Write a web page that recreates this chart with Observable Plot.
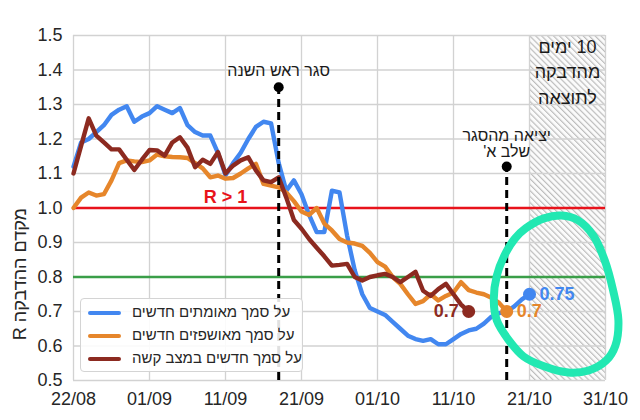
<!DOCTYPE html>
<html><head><meta charset="utf-8">
<script src="https://cdn.jsdelivr.net/npm/d3@7"></script>
<script src="https://cdn.jsdelivr.net/npm/@observablehq/plot@0.6"></script>
<style>
body{margin:0;background:#fff;font-family:"Liberation Sans",Arial,sans-serif;}
#wrap{position:relative;width:640px;height:420px;}
#legend{position:absolute;left:80px;top:298px;width:223px;height:74px;border:1px solid #d4d4d4;border-radius:4px;background:rgba(255,255,255,0.88);box-sizing:border-box;}
.sw{position:absolute;left:7px;width:33px;height:4px;border-radius:2px;}
.lab{position:absolute;left:51px;font-size:15px;line-height:18px;color:#262626;white-space:nowrap;direction:rtl;}
</style></head>
<body><div id="wrap"></div>
<script>
// ---- data ----
const startDate = "2020-08-22";
const blueR = [1.12,1.19,1.20,1.22,1.24,1.27,1.285,1.295,1.25,1.265,1.275,1.295,1.285,1.275,1.29,1.24,1.22,1.21,1.21,1.16,1.095,1.13,1.16,1.20,1.235,1.25,1.245,1.13,1.05,1.08,1.04,0.98,0.93,0.93,1.05,1.045,0.92,0.82,0.75,0.71,0.70,0.69,0.67,0.65,0.63,0.62,0.615,0.62,0.605,0.605,0.62,0.635,0.645,0.65,0.665,0.685,0.695,0.70,0.715,0.735,0.75];
const orangeR = [1.00,1.03,1.045,1.036,1.04,1.08,1.13,1.138,1.135,1.133,1.138,1.155,1.15,1.148,1.147,1.145,1.13,1.115,1.089,1.094,1.085,1.087,1.10,1.115,1.128,1.07,1.065,1.06,1.045,1.02,0.99,0.98,1.00,0.955,0.935,0.91,0.90,0.897,0.89,0.87,0.843,0.83,0.80,0.78,0.75,0.722,0.73,0.75,0.732,0.745,0.755,0.785,0.762,0.755,0.75,0.74,0.725,0.70];
const redR = [1.10,1.18,1.26,1.21,1.19,1.17,1.17,1.14,1.11,1.14,1.168,1.167,1.152,1.19,1.205,1.175,1.118,1.14,1.128,1.162,1.10,1.123,1.138,1.147,1.109,1.08,1.075,1.089,1.03,0.965,0.94,0.91,0.885,0.86,0.833,0.835,0.838,0.80,0.79,0.80,0.805,0.809,0.80,0.785,0.80,0.815,0.76,0.745,0.765,0.78,0.75,0.72,0.70];
const seriesNames = ["על סמך מאומתים חדשים","על סמך מאושפזים חדשים","על סמך חדשים במצב קשה"];
const seriesColors = ["#4287f0","#e6862b","#8c2a20"];
const endLabels = ["0.75","0.7","0.7"];
const xTickDates = ["2020-08-22","2020-09-01","2020-09-11","2020-09-21","2020-10-01","2020-10-11","2020-10-21","2020-10-31"];
const xTickLabels = ["22/08","01/09","11/09","21/09","01/10","11/10","21/10","31/10"];
const yTicks = [0.5,0.6,0.7,0.8,0.9,1.0,1.1,1.2,1.3,1.4,1.5];
const refLevels = [1.0,0.8];
const refColors = ["#e8131b","#3a9e48"];
const refText = "R > 1";
const refTextDate = "2020-09-11";
const refTextY = 1.032;
const eventDates = ["2020-09-18","2020-10-18"];
const eventTops = [1.35,1.12];
const eventLabels = ["סגר ראש השנה","יציאה מהסגר\nשלב א'"];
const eventLabelY = [1.398,1.186];
const forecastStart = "2020-10-21";
const forecastEnd = "2020-10-31";
const forecastLabel = "10 ימים\nמהדבקה\nלתוצאה";
const forecastLabelDate = "2020-10-26";
const forecastLabelY = 1.40;
const yLabel = "מקדם ההדבקה R";
const circleDay = [59.5,61.9,64.2,66.4,68.4,69.9,71.0,71.7,71.3,70.1,67.8,65.1,61.9,59.2,57.3,55.7,55.3,55.7,56.9,58.1];
const circleR   = [0.941,0.970,0.978,0.964,0.920,0.848,0.761,0.674,0.601,0.558,0.529,0.523,0.541,0.570,0.616,0.674,0.732,0.804,0.871,0.912];
const circleColor = "#22e8b2";

// ---- build ----
const parse = d3.utcParse("%Y-%m-%d");
const t0 = parse(startDate);
const dayDate = d => new Date(t0.getTime() + d * 864e5);
const seriesValues = [blueR, orangeR, redR];
const lineData = seriesValues.map(vals => vals.map((r, i) => ({date: dayDate(i), r})));
const ends = seriesValues.map((vals, k) => ({date: dayDate(vals.length - 1), r: vals[vals.length - 1], label: endLabels[k], color: seriesColors[k]}));
const events = eventDates.map((d, i) => ({date: parse(d), top: eventTops[i], label: eventLabels[i], ly: eventLabelY[i]}));
const xTicks = xTickDates.map(parse);
const xTickTimes = xTicks.map(d => +d);
const forecast = [{x1: parse(forecastStart), x2: parse(forecastEnd), y1: yTicks[0], y2: yTicks[yTicks.length - 1]}];
const circle = circleDay.map((d, i) => ({date: dayDate(d), r: circleR[i]}));
const font = "'Liberation Sans', Arial, sans-serif";

const plot = Plot.plot({
  width: 640, height: 420,
  marginLeft: 73, marginRight: 35, marginTop: 35, marginBottom: 40,
  style: {fontFamily: font, background: "#fff", color: "#262626", overflow: "visible"},
  x: {type: "utc", domain: [xTicks[0], xTicks[xTicks.length - 1]]},
  y: {domain: [yTicks[0], yTicks[yTicks.length - 1]]},
  marks: [
    Plot.rect(forecast, {x1: "x1", x2: "x2", y1: "y1", y2: "y2", fill: "url(#hatch)"}),
    Plot.gridY(yTicks, {stroke: "#d2d2d2", strokeOpacity: 1, strokeWidth: 1.3}),
    Plot.gridX(xTicks, {stroke: "#d2d2d2", strokeOpacity: 1, strokeWidth: 1.3}),
    Plot.axisY(yTicks, {tickSize: 0, tickPadding: 11, fontSize: 18, tickFormat: d => d.toFixed(1), label: null}),
    Plot.axisX(xTicks, {tickSize: 0, tickPadding: 12, fontSize: 18, tickFormat: d => xTickLabels[xTickTimes.indexOf(+d)], label: null}),
    Plot.ruleY([refLevels[0]], {stroke: refColors[0], strokeWidth: 2.6}),
    Plot.ruleY([refLevels[1]], {stroke: refColors[1], strokeWidth: 2.6}),
    ...lineData.map((data, k) => Plot.line(data, {x: "date", y: "r", stroke: seriesColors[k], strokeWidth: 4.4, strokeLinejoin: "round", strokeLinecap: "round"})),
    Plot.ruleX(events, {x: "date", y1: yTicks[0], y2: "top", stroke: "#000", strokeWidth: 3, strokeDasharray: "8,5"}),
    Plot.dot(events, {x: "date", y: "top", r: 5, fill: "#000"}),
    Plot.text(events, {x: "date", y: "ly", text: "label", fontSize: 16, lineHeight: 1.0, fill: "#1a1a1a"}),
    Plot.text([forecastLabel], {x: () => parse(forecastLabelDate), y: () => forecastLabelY, text: d => d, fontSize: 18, lineHeight: 1.42, fill: "#1a1a1a"}),
    Plot.text([refText], {x: () => parse(refTextDate), y: () => refTextY, text: d => d, fontSize: 18, fontWeight: "bold", fill: refColors[0]}),
    Plot.line(circle, {x: "date", y: "r", curve: "catmull-rom-closed", stroke: circleColor, strokeWidth: 8}),
    Plot.dot(ends, {x: "date", y: "r", r: 6.5, fill: "color"}),
    Plot.text([ends[0], ends[1]], {x: "date", y: "r", text: "label", fill: "color", fontSize: 18, fontWeight: "bold", textAnchor: "start", dx: 10}),
    Plot.text([ends[2]], {x: "date", y: "r", text: "label", fill: "color", fontSize: 18, fontWeight: "bold", textAnchor: "end", dx: -10}),
    Plot.text([yLabel], {frameAnchor: "left", text: d => d, rotate: -90, dx: -53, fontSize: 18, fill: "#262626"})
  ]
});

// hatch pattern
const svg = d3.select(plot);
const defs = svg.insert("defs", ":first-child");
const pat = defs.append("pattern").attr("id", "hatch").attr("patternUnits", "userSpaceOnUse")
  .attr("width", 4.2).attr("height", 4.2).attr("patternTransform", "rotate(-45)");
pat.append("rect").attr("width", 4.2).attr("height", 4.2).attr("fill", "#fbfbfb");
pat.append("line").attr("x1", 0.6).attr("y1", 0).attr("x2", 0.6).attr("y2", 4.2).attr("stroke", "#b8b8b8").attr("stroke-width", 1.1);

// right-to-left for Hebrew texts
svg.selectAll("text").filter(function () { return /[\u0590-\u05FF]/.test(this.textContent); })
  .attr("direction", "rtl").style("unicode-bidi", "embed");

const wrap = document.getElementById("wrap");
wrap.appendChild(plot);

// legend
const legend = document.createElement("div");
legend.id = "legend";
seriesNames.forEach((name, k) => {
  const sw = document.createElement("div");
  sw.className = "sw";
  sw.style.top = (12 + k * 23) + "px";
  sw.style.background = seriesColors[k];
  const lab = document.createElement("div");
  lab.className = "lab";
  lab.style.top = (4 + k * 23) + "px";
  lab.textContent = name;
  legend.appendChild(sw);
  legend.appendChild(lab);
});
wrap.appendChild(legend);
</script></body></html>
